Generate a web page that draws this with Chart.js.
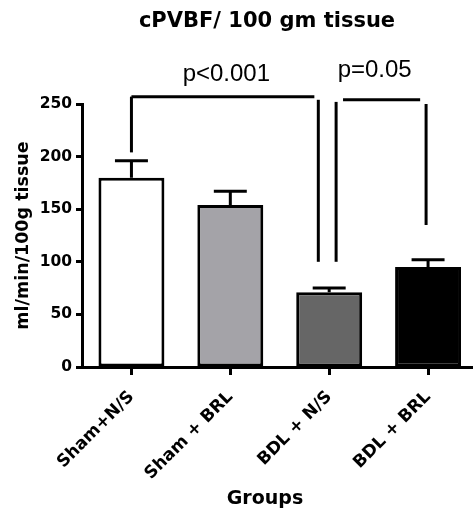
<!DOCTYPE html>
<html>
<head>
<meta charset="utf-8">
<script src="https://cdn.jsdelivr.net/npm/chart.js@4"></script>
<style>
  html, body { margin: 0; padding: 0; background: #fff; overflow: hidden; }
  canvas { display: block; }
</style>
</head>
<body>
<canvas id="chart" width="480" height="512"></canvas>
<script>
// data
const groups = ['Sham+N/S', 'Sham + BRL', 'BDL + N/S', 'BDL + BRL'];
const meanFlow = [180, 154, 71, 95];
const semFlow = [16, 13, 4, 7];
const barColors = ['#ffffff', '#a4a3a8', '#666666', '#000000'];
const yTicks = [0, 50, 100, 150, 200, 250];

// significance brackets: [category from, value from, category to, value to]
const bracketLines = [
    [0, 204, 0, 257],
    [0, 257, 1.85, 257],
    [1.89, 254, 1.89, 100],
    [2.07, 252, 2.07, 100],
    [2.14, 254, 2.92, 254],
    [2.98, 250, 2.98, 135]
];
const pTexts = ['p<0.001', 'p=0.05'];
const pTextCategory = [0.96, 2.46];
const pTextValue = [272, 275.5];

const boldFont = 'DejaVu Sans';

const extras = {
    id: 'extras',
    afterDatasetsDraw(chart) {
        const ctx = chart.ctx;
        const xs = chart.scales.x;
        const ys = chart.scales.y;
        const x0 = xs.getPixelForValue(0);
        const step = xs.getPixelForValue(1) - x0;
        const catX = c => x0 + c * step;

        ctx.save();
        ctx.strokeStyle = '#000';
        ctx.lineWidth = 3;

        // error bars (upper only)
        chart.getDatasetMeta(0).data.forEach((bar, i) => {
            const top = ys.getPixelForValue(meanFlow[i] + semFlow[i]);
            const half = bar.width / 4;
            ctx.beginPath();
            ctx.moveTo(bar.x, bar.y);
            ctx.lineTo(bar.x, top);
            ctx.moveTo(bar.x - half, top);
            ctx.lineTo(bar.x + half, top);
            ctx.stroke();
        });

        // brackets
        bracketLines.forEach(l => {
            ctx.beginPath();
            ctx.moveTo(catX(l[0]), ys.getPixelForValue(l[1]));
            ctx.lineTo(catX(l[2]), ys.getPixelForValue(l[3]));
            ctx.stroke();
        });

        // p values
        ctx.fillStyle = '#000';
        ctx.textAlign = 'center';
        ctx.textBaseline = 'alphabetic';
        ctx.font = '24px "Liberation Sans", Arial, sans-serif';
        pTexts.forEach((t, i) => {
            ctx.fillText(t, catX(pTextCategory[i]), ys.getPixelForValue(pTextValue[i]));
        });

        // title and x axis title
        ctx.font = 'bold 21px "DejaVu Sans", sans-serif';
        ctx.fillText('cPVBF/ 100 gm tissue', 267, 27);
        ctx.font = 'bold 19px "DejaVu Sans", sans-serif';
        ctx.fillText('Groups', 265, 504);
        ctx.restore();
    }
};

new Chart(document.getElementById('chart'), {
    type: 'bar',
    data: {
        labels: groups,
        datasets: [{
            data: meanFlow,
            backgroundColor: barColors,
            borderColor: '#000',
            borderWidth: 3,
            borderSkipped: false,
            barPercentage: 0.667,
            categoryPercentage: 1
        }]
    },
    options: {
        responsive: false,
        animation: false,
        devicePixelRatio: 1,
        layout: { padding: { top: 104, right: 2.5, left: 0, bottom: 0 } },
        plugins: {
            legend: { display: false },
            tooltip: { enabled: false },
            title: { display: false }
        },
        scales: {
            x: {
                offset: true,
                border: { color: '#000', width: 3 },
                grid: {
                    offset: false,
                    drawOnChartArea: false,
                    tickLength: 8,
                    tickWidth: 3,
                    tickColor: '#000'
                },
                ticks: {
                    autoSkip: false,
                    minRotation: 45,
                    maxRotation: 45,
                    padding: 12,
                    color: '#000',
                    font: { family: boldFont, weight: 'bold', size: 17 }
                },
                afterFit(scale) { scale.height = 145; }
            },
            y: {
                min: 0,
                max: 250,
                border: { color: '#000', width: 3 },
                grid: {
                    drawOnChartArea: false,
                    tickLength: 6,
                    tickWidth: 3,
                    tickColor: '#000'
                },
                ticks: {
                    padding: 4,
                    color: '#000',
                    font: { family: boldFont, weight: 'bold', size: 15.5 }
                },
                afterBuildTicks(scale) {
                    scale.ticks = yTicks.map(v => ({ value: v }));
                },
                title: {
                    display: true,
                    text: 'ml/min/100g tissue',
                    color: '#000',
                    padding: { top: 12.5, bottom: 0 },
                    font: { family: boldFont, weight: 'bold', size: 17.5 }
                },
                afterFit(scale) { scale.width = 82; }
            }
        }
    },
    plugins: [extras]
});
</script>
</body>
</html>
